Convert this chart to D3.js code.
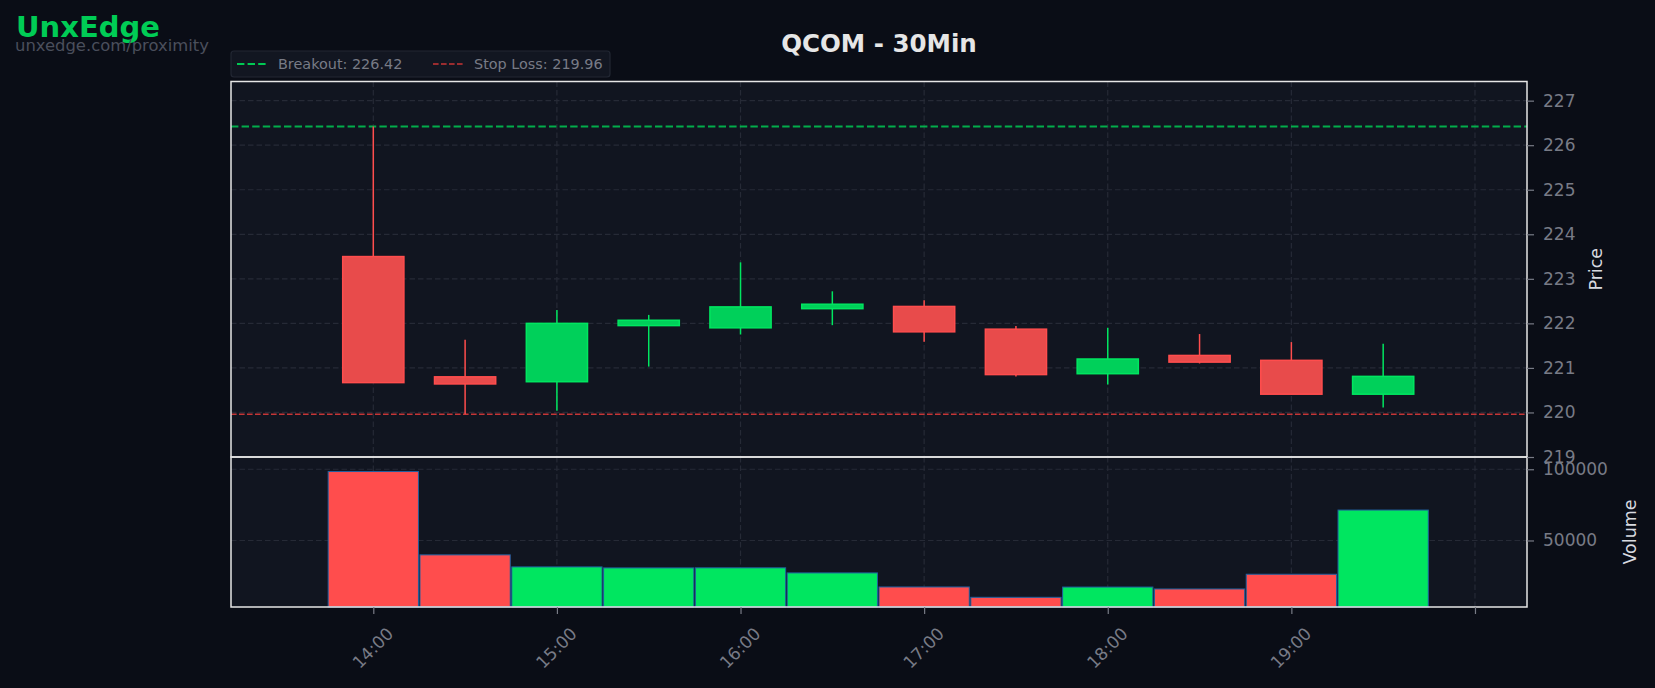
<!DOCTYPE html>
<html><head><meta charset="utf-8">
<script src="https://cdn.jsdelivr.net/npm/d3@7"></script>
<style>
html,body{margin:0;padding:0;background:#0a0d16;}
svg{display:block;font-family:"DejaVu Sans",sans-serif;}
</style>
</head><body>
<svg id="chart" width="1655" height="688"></svg>
<script>
// ---- data ----
const times   = ["14:00","14:30","15:00","15:30","16:00","16:30","17:00","17:30","18:00","18:30","19:00","19:30"];
const opens   = [223.50, 220.80, 220.69, 221.95, 221.90, 222.33, 222.38, 221.87, 220.87, 221.28, 221.17, 220.41];
const highs   = [226.42, 221.63, 222.30, 222.19, 223.37, 222.72, 222.52, 221.94, 221.90, 221.76, 221.58, 221.54];
const lows    = [220.67, 219.96, 220.04, 221.03, 221.75, 221.96, 221.59, 220.81, 220.63, 221.10, 220.41, 220.11];
const closes  = [220.67, 220.64, 222.00, 222.07, 222.37, 222.43, 221.81, 220.85, 221.20, 221.13, 220.41, 220.81];
const volumes = [98400, 39900, 31450, 30750, 30800, 27230, 17370, 10100, 17300, 15960, 26290, 71360];
const priceTicks = [219, 220, 221, 222, 223, 224, 225, 226, 227];
const volumeTicks = [50000, 100000];
const timeTicks = ["14:00","15:00","16:00","17:00","18:00","19:00","20:00"];
const timeTickLabels = ["14:00","15:00","16:00","17:00","18:00","19:00",""];
const breakout = 226.42;
const stopLoss = 219.96;
const symbol = "QCOM";
const interval = "30Min";

// ---- layout ----
const W = 1655, H = 688;
const axL = 231, axR = 1527;
const pTop = 81.5, pBot = 457, vTop = 457, vBot = 607;
const UP = "#00d05a", UP_EDGE = "#00e660", DN = "#e84b4b", DN_EDGE = "#ff4d4d";
const GRID = "#262a36", TICK = "#787b86", FRAME = "#e6e6e6";

const parse = d3.timeParse("%H:%M");
const tDates = times.map(parse);
const minute = 60000;
const x = d3.scaleTime()
  .domain([new Date(tDates[0].getTime() - 46.5*minute), new Date(tDates[tDates.length-1].getTime() + 47*minute)])
  .range([axL, axR]);
const yP = d3.scaleLinear().domain([219, 227.43]).range([pBot, pTop]);
const yV = d3.scaleLinear().domain([3300, 108600]).range([vBot, vTop]);

const svg = d3.select("#chart");
svg.append("rect").attr("width", W).attr("height", H).attr("fill", "#0a0d16");

// axes backgrounds
svg.append("rect").attr("x", axL).attr("y", pTop).attr("width", axR-axL).attr("height", pBot-pTop).attr("fill", "#111520");
svg.append("rect").attr("x", axL).attr("y", vTop).attr("width", axR-axL).attr("height", vBot-vTop).attr("fill", "#111520");

// grid
const grid = svg.append("g").attr("stroke", GRID).attr("stroke-width", 1.2).attr("stroke-dasharray", "5.5,3");
timeTicks.map(parse).forEach(t => {
  grid.append("line").attr("x1", x(t)).attr("x2", x(t)).attr("y1", pTop).attr("y2", pBot);
  grid.append("line").attr("x1", x(t)).attr("x2", x(t)).attr("y1", vTop).attr("y2", vBot);
});
priceTicks.forEach(v => grid.append("line").attr("x1", axL).attr("x2", axR).attr("y1", yP(v)).attr("y2", yP(v)));
volumeTicks.forEach(v => grid.append("line").attr("x1", axL).attr("x2", axR).attr("y1", yV(v)).attr("y2", yV(v)));

// breakout / stop loss
svg.append("line").attr("x1", axL).attr("x2", axR).attr("y1", yP(breakout)).attr("y2", yP(breakout))
  .attr("stroke", "#00c853").attr("stroke-opacity", 0.85).attr("stroke-width", 2).attr("stroke-dasharray", "7.4,3.2");
svg.append("line").attr("x1", axL).attr("x2", axR).attr("y1", yP(stopLoss)).attr("y2", yP(stopLoss))
  .attr("stroke", "#d93a3a").attr("stroke-opacity", 0.9).attr("stroke-width", 1.6).attr("stroke-dasharray", "5.6,2.4");

// candles
const bodyW = x(new Date(tDates[0].getTime() + 20*minute)) - x(tDates[0]);
const candles = svg.append("g");
times.forEach((t, i) => {
  const up = closes[i] >= opens[i];
  const cx = x(tDates[i]);
  const edge = up ? UP_EDGE : DN_EDGE;
  candles.append("line").attr("x1", cx).attr("x2", cx).attr("y1", yP(highs[i])).attr("y2", yP(lows[i]))
    .attr("stroke", edge).attr("stroke-width", 1.5);
  const top = yP(Math.max(opens[i], closes[i])), bot = yP(Math.min(opens[i], closes[i]));
  candles.append("rect").attr("x", cx - bodyW/2).attr("y", top).attr("width", bodyW).attr("height", Math.max(bot - top, 1))
    .attr("fill", up ? UP : DN).attr("stroke", edge).attr("stroke-width", 1.5);
});

// volume bars
const barW = x(new Date(tDates[0].getTime() + 29.5*minute)) - x(tDates[0]);
const vols = svg.append("g");
times.forEach((t, i) => {
  const up = closes[i] >= opens[i];
  const cx = x(tDates[i]);
  vols.append("rect").attr("x", cx - barW/2).attr("y", yV(volumes[i])).attr("width", barW).attr("height", vBot - yV(volumes[i]))
    .attr("fill", up ? "#00e660" : "#ff4d4d").attr("stroke", "#1f5f9f").attr("stroke-width", 1);
});

// frames
[[pTop, pBot], [vTop, vBot]].forEach(([a, b]) => {
  svg.append("rect").attr("x", axL).attr("y", a).attr("width", axR-axL).attr("height", b-a)
    .attr("fill", "none").attr("stroke", FRAME).attr("stroke-width", 1.5);
});

// right axes
const pAxis = svg.append("g").attr("transform", `translate(${axR},0)`)
  .call(d3.axisRight(yP).tickValues(priceTicks).tickFormat(d3.format("d")).tickSize(7).tickPadding(9));
const vAxis = svg.append("g").attr("transform", `translate(${axR},0)`)
  .call(d3.axisRight(yV).tickValues(volumeTicks).tickFormat(d3.format("d")).tickSize(7).tickPadding(9));
[pAxis, vAxis].forEach(g => {
  g.select(".domain").remove();
  g.selectAll(".tick line").attr("stroke", TICK).attr("stroke-width", 1.2);
  g.selectAll(".tick text").attr("fill", TICK).attr("font-size", 17).attr("font-family", "DejaVu Sans");
});

// bottom axis
const xAxis = svg.append("g").attr("transform", `translate(0,${vBot})`)
  .call(d3.axisBottom(x).tickValues(timeTicks.map(parse)).tickFormat((d, i) => timeTickLabels[i]).tickSize(7));
xAxis.select(".domain").remove();
xAxis.selectAll(".tick line").attr("stroke", TICK).attr("stroke-width", 1.2);
xAxis.selectAll(".tick text")
  .attr("fill", TICK).attr("font-size", 17).attr("font-family", "DejaVu Sans")
  .attr("text-anchor", "middle").attr("dominant-baseline", "central").attr("dy", null)
  .attr("y", 41).attr("x", -1)
  .attr("transform", "rotate(-45,-1,41)");

// axis titles
svg.append("text").attr("transform", `translate(1602,${(pTop+pBot)/2}) rotate(-90)`)
  .attr("text-anchor", "middle").attr("fill", "#d8dae0").attr("font-size", 17.5).text("Price");
svg.append("text").attr("transform", `translate(1636,${(vTop+vBot)/2}) rotate(-90)`)
  .attr("text-anchor", "middle").attr("fill", "#d8dae0").attr("font-size", 17.5).text("Volume");

// title
svg.append("text").attr("x", (axL+axR)/2).attr("y", 52).attr("text-anchor", "middle")
  .attr("fill", "#e6e6e6").attr("font-size", 24.5).attr("font-weight", "bold").text(`${symbol} - ${interval}`);

// legend
const lg = svg.append("g");
lg.append("rect").attr("x", 231).attr("y", 51).attr("width", 379).attr("height", 26).attr("rx", 3)
  .attr("fill", "#121621").attr("stroke", "#222733").attr("stroke-width", 1.2);
lg.append("line").attr("x1", 237).attr("x2", 267).attr("y1", 64).attr("y2", 64)
  .attr("stroke", "#00c853").attr("stroke-width", 2).attr("stroke-dasharray", "7.4,3.2");
lg.append("text").attr("x", 278).attr("y", 64).attr("dominant-baseline", "central")
  .attr("fill", TICK).attr("font-size", 14.4).text(`Breakout: ${breakout.toFixed(2)}`);
lg.append("line").attr("x1", 433).attr("x2", 463).attr("y1", 64).attr("y2", 64)
  .attr("stroke", "#c83535").attr("stroke-width", 1.6).attr("stroke-dasharray", "5.6,2.4");
lg.append("text").attr("x", 474).attr("y", 64).attr("dominant-baseline", "central")
  .attr("fill", TICK).attr("font-size", 14.4).text(`Stop Loss: ${stopLoss.toFixed(2)}`);

// branding
svg.append("text").attr("x", 16).attr("y", 37).attr("fill", "#00cc55").attr("font-size", 29)
  .attr("font-weight", "bold").text("UnxEdge");
svg.append("text").attr("x", 15).attr("y", 51).attr("fill", "#4a4f5c").attr("font-size", 16.4)
  .text("unxedge.com/proximity");
</script>
</body></html>
